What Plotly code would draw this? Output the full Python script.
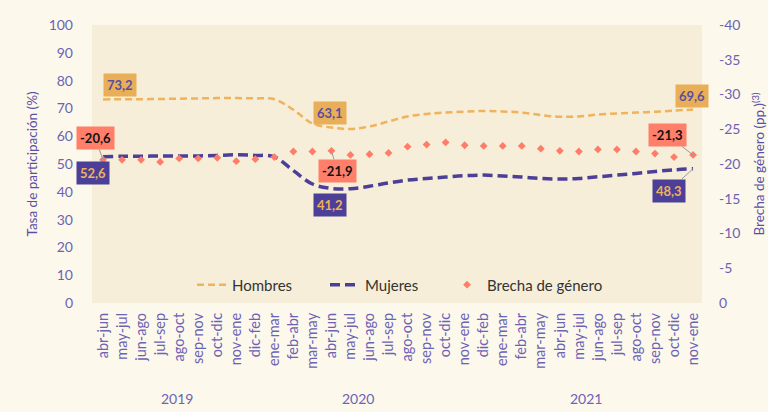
import plotly.graph_objects as go

periods = ["abr-jun", "may-jul", "jun-ago", "jul-sep", "ago-oct", "sep-nov", "oct-dic", "nov-ene",
           "dic-feb", "ene-mar", "feb-abr", "mar-may", "abr-jun", "may-jul", "jun-ago", "jul-sep",
           "ago-oct", "sep-nov", "oct-dic", "nov-ene", "dic-feb", "ene-mar", "feb-abr", "mar-may",
           "abr-jun", "may-jul", "jun-ago", "jul-sep", "ago-oct", "sep-nov", "oct-dic", "nov-ene"]
years = ["2019", "2020", "2021"]
year_pos = [3.9, 13.4, 25.4]

hombres = [73.2, 73.3, 73.3, 73.4, 73.5, 73.6, 73.7, 73.7, 73.6, 73.3, 69.5, 64.6, 63.1, 62.6, 63.5, 65.3,
           67.1, 68.0, 68.5, 68.8, 69.1, 68.9, 68.5, 67.6, 67.0, 67.1, 67.8, 68.2, 68.5, 68.8, 69.2, 69.6]
mujeres = [52.6, 52.8, 52.8, 52.9, 52.9, 52.9, 53.1, 53.3, 53.1, 52.6, 47.6, 42.8, 41.2, 41.1, 42.0, 43.2,
           44.2, 44.8, 45.3, 45.8, 46.0, 45.7, 45.3, 44.8, 44.6, 44.8, 45.4, 46.0, 46.6, 47.3, 47.9, 48.3]
brecha = [-20.6, -20.6, -20.6, -20.3, -20.8, -20.8, -20.9, -20.4, -20.7, -21.0, -21.8, -21.8, -21.9, -21.3,
          -21.4, -21.6, -22.5, -22.8, -23.1, -22.7, -22.6, -22.6, -22.6, -22.2, -21.9, -21.8, -22.1, -22.1,
          -21.8, -21.5, -21.0, -21.3]

left_ticks = list(range(0, 101, 10))
right_tickvals = [0, -5, -10, -15, -20, -25, -30, -35, -40]
right_ticktext = ["0", "-5", "-10", "-15", "-20", "-25", "-30", "-35", "-40"]

C_H = "#F0B25A"
C_M = "#4B3F98"
C_B = "#FF7D68"
C_TICK = "#6C63B5"
FONT = "Lato"
PAPER = "#FCF8EC"

x = list(range(len(periods)))

fig = go.Figure()
fig.add_trace(go.Scatter(x=x, y=hombres, name="Hombres", mode="lines", line_shape="spline", legend="legend",
                         line=dict(color=C_H, width=2.5, dash="7px,4px")))
fig.add_trace(go.Scatter(x=x, y=mujeres, name="Mujeres", mode="lines", line_shape="spline", legend="legend2",
                         line=dict(color=C_M, width=3.5, dash="10px,5px")))
fig.add_trace(go.Scatter(x=x, y=brecha, name="Brecha de género", mode="markers", yaxis="y2", legend="legend3",
                         marker=dict(color=C_B, size=6, symbol="diamond")))

def fmt(v):
    return f"{v:.1f}".replace(".", ",")

annotations = []
# labels without leader lines
for series, idx, bg, fc, xs, ys in [(hombres, 0, "#E9AE58", "#5B4E9E", 17, 15),
                                    (hombres, 12, "#E9AE58", "#5B4E9E", -1, 15),
                                    (mujeres, 12, C_M, "#F0B25A", -1, -17),
                                    (hombres, 31, "#E9AE58", "#5B4E9E", -1, 14)]:
    annotations.append(dict(x=idx, y=series[idx], xref="x", yref="y", text=f"<b>{fmt(series[idx])}</b>",
                            showarrow=False, bgcolor=bg, font=dict(color=fc, size=13, family=FONT),
                            borderpad=3, xshift=xs, yshift=ys))
# labels with leader lines
for series, idx, bg, fc, ax, ay, yref in [(brecha, 0, "#FF7F6A", "#111111", -8, -22, "y2"),
                                          (mujeres, 0, C_M, "#F0B25A", -10, 16, "y"),
                                          (brecha, 12, "#FF7F6A", "#111111", 6, 20, "y2"),
                                          (brecha, 31, "#FF7F6A", "#111111", -26, -20, "y2"),
                                          (mujeres, 31, C_M, "#F0B25A", -24, 22, "y")]:
    annotations.append(dict(x=idx, y=series[idx], xref="x", yref=yref, text=f"<b>{fmt(series[idx])}</b>",
                            showarrow=True, arrowhead=0, arrowwidth=1, arrowcolor="#9a9a9a",
                            ax=ax, ay=ay, bgcolor=bg, font=dict(color=fc, size=13, family=FONT),
                            borderpad=3))
for yr, xp in zip(years, year_pos):
    annotations.append(dict(x=xp, y=-0.342, xref="x", yref="paper", text=yr, showarrow=False,
                            font=dict(color=C_TICK, size=14, family=FONT), yanchor="middle"))

leg_common = dict(orientation="h", xanchor="left", y=0.065, yanchor="middle",
                  bgcolor="rgba(0,0,0,0)", font=dict(color="#333333", size=15, family=FONT))

fig.update_layout(
    width=768, height=412,
    margin=dict(l=92, r=66, t=25, b=109, autoexpand=False),
    paper_bgcolor=PAPER,
    plot_bgcolor="#F6EED8",
    font=dict(family=FONT, color=C_TICK, size=14),
    separators=",.",
    showlegend=True,
    legend=dict(x=0.164, **leg_common),
    legend2=dict(x=0.382, **leg_common),
    legend3=dict(x=0.582, **leg_common),
    xaxis=dict(range=[-0.58, 31.47], tickmode="array", tickvals=x, ticktext=periods, tickangle=-90,
               showgrid=False, zeroline=False, showline=False, ticks="", ticklabelstandoff=6,
               automargin=False, tickfont=dict(size=14.5, color=C_TICK)),
    yaxis=dict(range=[0, 100], tickvals=left_ticks, showgrid=False, zeroline=False, showline=False,
               ticks="", ticklabelstandoff=18, automargin=False, tickfont=dict(size=14, color=C_TICK),
               title=dict(text="Tasa de participación (%)", font=dict(size=13.5, color="#5A4FA5"), standoff=7)),
    yaxis2=dict(range=[0, -40], overlaying="y", side="right", tickvals=right_tickvals, ticktext=right_ticktext,
                showgrid=False, zeroline=False, showline=False, ticks="", ticklabelstandoff=16,
                automargin=False, tickfont=dict(size=14, color=C_TICK),
                title=dict(text="Brecha de género (pp.)<sup>(3)</sup>", font=dict(size=13.5, color="#5A4FA5"),
                           standoff=15)),
    annotations=annotations,
)

fig.write_html("out.html", config={"displayModeBar": False},
               post_script=f"document.body.style.margin='0';document.body.style.background='{PAPER}';")
